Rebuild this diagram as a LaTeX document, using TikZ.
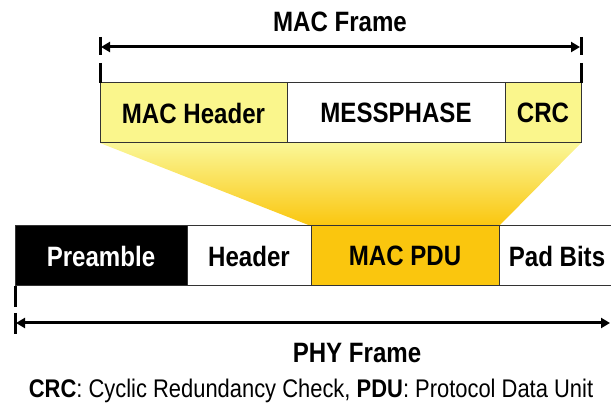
\documentclass[tikz,border=0pt]{standalone}
\usepackage{fontspec}
\setmainfont[FakeStretch=0.86]{Liberation Sans}
\usetikzlibrary{arrows.meta,backgrounds}
\definecolor{paleyel}{HTML}{FAF68C}
\definecolor{gold}{HTML}{FAC60E}
\definecolor{edge}{HTML}{333333}
\begin{document}
\begin{tikzpicture}[x=1pt,y=-1pt,
  field/.style={draw=edge, line width=1pt, inner sep=0pt, outer sep=0pt,
    minimum height=60pt, font=\fontsize{28}{30}\selectfont\bfseries},
  dim/.style={line width=3pt, {Triangle[length=9pt,width=10pt]}-{Triangle[length=9pt,width=10pt]}, shorten <=1pt, shorten >=1pt},
  tick/.style={line width=3pt},
  ttl/.style={font=\fontsize{28}{30}\selectfont\bfseries, inner sep=0pt}]
\useasboundingbox (0,0) rectangle (611,403);
% MAC frame fields
\node[field, fill=paleyel, minimum width=187pt] (mh) at (193.5,113) {MAC Header};
\node[field, fill=white, minimum width=218pt, anchor=west] (msg) at (mh.east) {MESSPHASE};
\node[field, fill=paleyel, minimum width=76pt, anchor=west] (crc) at (msg.east) {CRC};
% PHY frame fields
\node[field, fill=black, text=white, minimum width=172pt] (pre) at (101,256) {Preamble};
\node[field, fill=white, minimum width=124pt, anchor=west] (hdr) at (pre.east) {Header};
\node[field, fill=gold, minimum width=188pt, anchor=west] (pdu) at (hdr.east) {MAC PDU};
\node[field, fill=white, minimum width=116pt, anchor=west] (pad) at (pdu.east) {Pad Bits};
% funnel
\begin{scope}[on background layer]
\shade[top color=paleyel!90!white, bottom color=gold]
  (mh.south west) -- (crc.south east) -- (pdu.north east) -- (pdu.north west) -- cycle;
\end{scope}
% MAC frame dimension
\coordinate (ml1) at (100,37);
\coordinate (ml2) at (100,55);
\coordinate (ml3) at (100,63);
\coordinate (mr1) at (581,37);
\coordinate (mr2) at (581,55);
\coordinate (mr3) at (581,63);
\coordinate (ma) at (100,47);
\coordinate (mb) at (581,47);
\draw[tick] (ml1) -- (ml2);
\draw[tick] (ml3) -- (mh.north west);
\draw[tick] (mr1) -- (mr2);
\draw[tick] (mr3) -- (crc.north east);
\draw[dim] (ma) -- (mb);
\node[ttl] (mact) at (340,22) {MAC Frame};
% PHY frame dimension
\coordinate (pl2) at (15,307);
\coordinate (pl3) at (15,313);
\coordinate (pl4) at (15,334);
\coordinate (pa) at (15,323);
\coordinate (pb) at (611,323);
\draw[tick] (pre.south west) -- (pl2);
\draw[tick] (pl3) -- (pl4);
\draw[dim] (pa) -- (pb);
\node[ttl] (phyt) at (357,353) {PHY Frame};
\node[inner sep=0pt, anchor=base, font=\fontsize{25.5}{27}\selectfont] (cap) at (311,398)
  {\textbf{CRC}: Cyclic Redundancy Check, \textbf{PDU}: Protocol Data Unit};
\end{tikzpicture}
\end{document}
